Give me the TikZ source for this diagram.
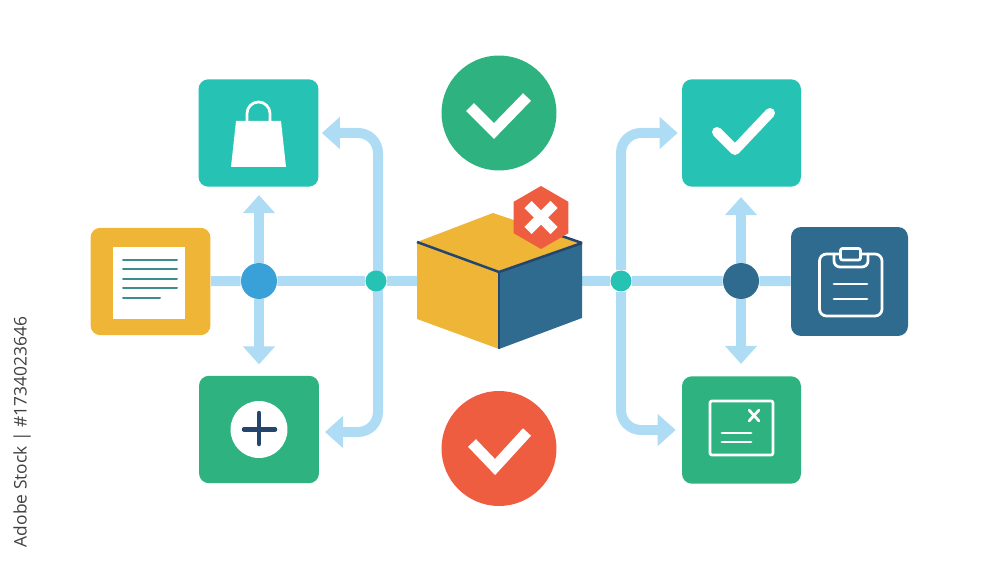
\documentclass[tikz,border=0pt]{standalone}
\usepackage{fontspec}
\setmainfont{Open Sans}
\usepackage{xcolor}
\usetikzlibrary{arrows.meta,backgrounds,shapes.geometric}

\definecolor{flowblue}{HTML}{AEDCF5}
\definecolor{boxyellow}{HTML}{EEB537}
\definecolor{boxteal}{HTML}{26C2B3}
\definecolor{boxgreen}{HTML}{2EB280}
\definecolor{boxnavy}{HTML}{2F6A8F}
\definecolor{edgenavy}{HTML}{24466E}
\definecolor{hubblue}{HTML}{3AA0D8}
\definecolor{signred}{HTML}{EE5D40}
\definecolor{doclines}{HTML}{3E8C8C}

\begin{document}
\begin{tikzpicture}[x=0.02cm,y=-0.02cm,
tile/.style={rectangle,rounded corners=0.2cm,inner sep=0,minimum width=2.4cm,minimum height=2.15cm},
sign/.style={circle,inner sep=0,minimum size=2.3cm},
hub/.style={circle,inner sep=0,minimum size=0.72cm},
joint/.style={circle,inner sep=0,minimum size=0.42cm,fill=boxteal},
flow/.style={draw=flowblue,line width=0.2cm},
flowarrow/.style={flow,-{Triangle[length=0.36cm,width=0.62cm]}},
iconline/.style={draw=white,line width=0.055cm,line cap=round,line join=round},
tickline/.style={draw=white,line width=0.22cm}]

\useasboundingbox (0,0) rectangle (1000,563);

\node (Doc) [tile,fill=boxyellow] at (150.5,281.5) {};
\node (Bag) [tile,fill=boxteal] at (258.5,133) {};
\node (Plus) [tile,fill=boxgreen] at (259,429.5) {};
\node (Check) [tile,fill=boxteal,minimum width=2.38cm] at (741.5,133) {};
\node (Clip) [tile,fill=boxnavy,minimum width=2.34cm,minimum height=2.18cm] at (849.5,281.5) {};
\node (List) [tile,fill=boxgreen,minimum width=2.38cm] at (741.5,430) {};

\node (HubL) [hub,fill=hubblue] at (259,281) {};
\node (JointL) [joint] at (376,281) {};
\node (JointR) [joint] at (621,281) {};
\node (HubR) [hub,fill=boxnavy] at (741,281) {};

\node (SignOk) [sign,fill=boxgreen] at (499,113) {};
\node (SignBad) [sign,fill=signred] at (499,448.5) {};

% the box in the middle
\coordinate (LeftTop) at (417,242);
\coordinate (BackTop) at (493,213);
\coordinate (RightTop) at (582,243);
\coordinate (FrontTop) at (499,272);
\coordinate (FrontLow) at (499,349);
\coordinate (LeftLow) at (417,319);
\coordinate (RightLow) at (582,318);
\fill[boxyellow] (LeftTop) -- (BackTop) -- (RightTop) -- (FrontTop) -- cycle;
\fill[boxyellow] (LeftTop) -- (FrontTop) -- (FrontLow) -- (LeftLow) -- cycle;
\fill[boxnavy] (FrontTop) -- (RightTop) -- (RightLow) -- (FrontLow) -- cycle;
\draw[edgenavy,line width=0.05cm] (LeftTop) -- (FrontTop) -- (RightTop);
\draw[edgenavy,line width=0.05cm] (FrontTop) -- (FrontLow);
\draw[edgenavy,line width=0.05cm] (553,233) -- (RightTop);
\node (Badge) [regular polygon,regular polygon sides=6,shape border rotate=30,inner sep=0,minimum size=1.26cm,fill=signred] at (541,217.5) {};
\draw[white,line width=0.2cm] ([shift={(-13,-13)}]Badge.center) -- ([shift={(13,13)}]Badge.center);
\draw[white,line width=0.2cm] ([shift={(-13,13)}]Badge.center) -- ([shift={(13,-13)}]Badge.center);

\begin{scope}[on background layer]
\draw[flow] (Doc) -- (HubL) -- (JointL) -- (LeftTop |- JointL);
\draw[flow] (RightTop |- JointR) -- (JointR) -- (HubR) -- (Clip);
\draw[flowarrow,shorten >=0.16cm] (HubL) -- (HubL |- Bag.south);
\draw[flowarrow,shorten >=0.22cm] (HubL) -- (HubL |- Plus.north);
\draw[flowarrow,shorten >=0.2cm] (HubR) -- (HubR |- Check.south);
\draw[flowarrow,shorten >=0.24cm] (HubR) -- (HubR |- List.north);
\draw[flowarrow,shorten >=0.06cm,rounded corners=0.4cm] (378,281) |- (Bag.east);
\draw[flowarrow,shorten >=0.12cm,rounded corners=0.4cm] (378,281) |- (319,432);
\draw[flowarrow,shorten >=0.08cm,rounded corners=0.4cm] (JointR) |- (Check.west);
\draw[flowarrow,shorten >=0.12cm,rounded corners=0.4cm] (JointR) |- (List.west);
\end{scope}

% ticks
\draw[tickline] (470,107) -- (494,131) -- (527,97);
\draw[tickline] (472,443) -- (495,467) -- (527,432);
\draw[white,line width=0.2cm,line cap=round,line join=round] (717,132) -- (735,150) -- (770,113);

% bag
\fill[white] (236,121) -- (281,121) -- (286,167) -- (231,167) -- cycle;
\draw[iconline,line cap=butt] (247,122) -- (247,113.5) arc[start angle=180,end angle=360,radius=11.5] -- (270,122);

% page on the yellow tile
\fill[white] (113,247) rectangle (185,319);
\foreach \y in {260,269.5,279,288.5}
  \draw[doclines,line width=0.04cm,line cap=round] (123,\y) -- (177,\y);
\draw[doclines,line width=0.04cm,line cap=round] (123,298) -- (160,298);

% plus
\fill[white] (Plus.center) circle[radius=0.57cm];
\draw[edgenavy,line width=0.09cm,line cap=round] (244,429.5) -- (275,429.5);
\draw[edgenavy,line width=0.09cm,line cap=round] (259,413) -- (259,444);

% clipboard
\draw[iconline,rounded corners=0.14cm] (819.5,254) rectangle (882,316);
\draw[iconline,rounded corners=0.12cm] (834,254) -- (834,267) -- (868,267) -- (868,254);
\draw[iconline,fill=boxnavy,rounded corners=0.04cm] (840.5,248.5) rectangle (860.5,260);
\draw[iconline] (834,284) -- (867,284);
\draw[iconline] (834,299) -- (867,299);

% card with the small cross
\draw[iconline,rounded corners=0.04cm] (710,401) rectangle (773,455);
\draw[iconline] (749,410) -- (759,421);
\draw[iconline] (759,410) -- (749,421);
\draw[iconline] (722,433) -- (751,433);
\draw[iconline] (722,442) -- (751,442);

\node (Credit) [rotate=90,anchor=center,text=black!75,font=\fontsize{9.9pt}{11pt}\selectfont,inner sep=0] at (22,432) {Adobe Stock | \#1734023646};
\end{tikzpicture}
\end{document}
